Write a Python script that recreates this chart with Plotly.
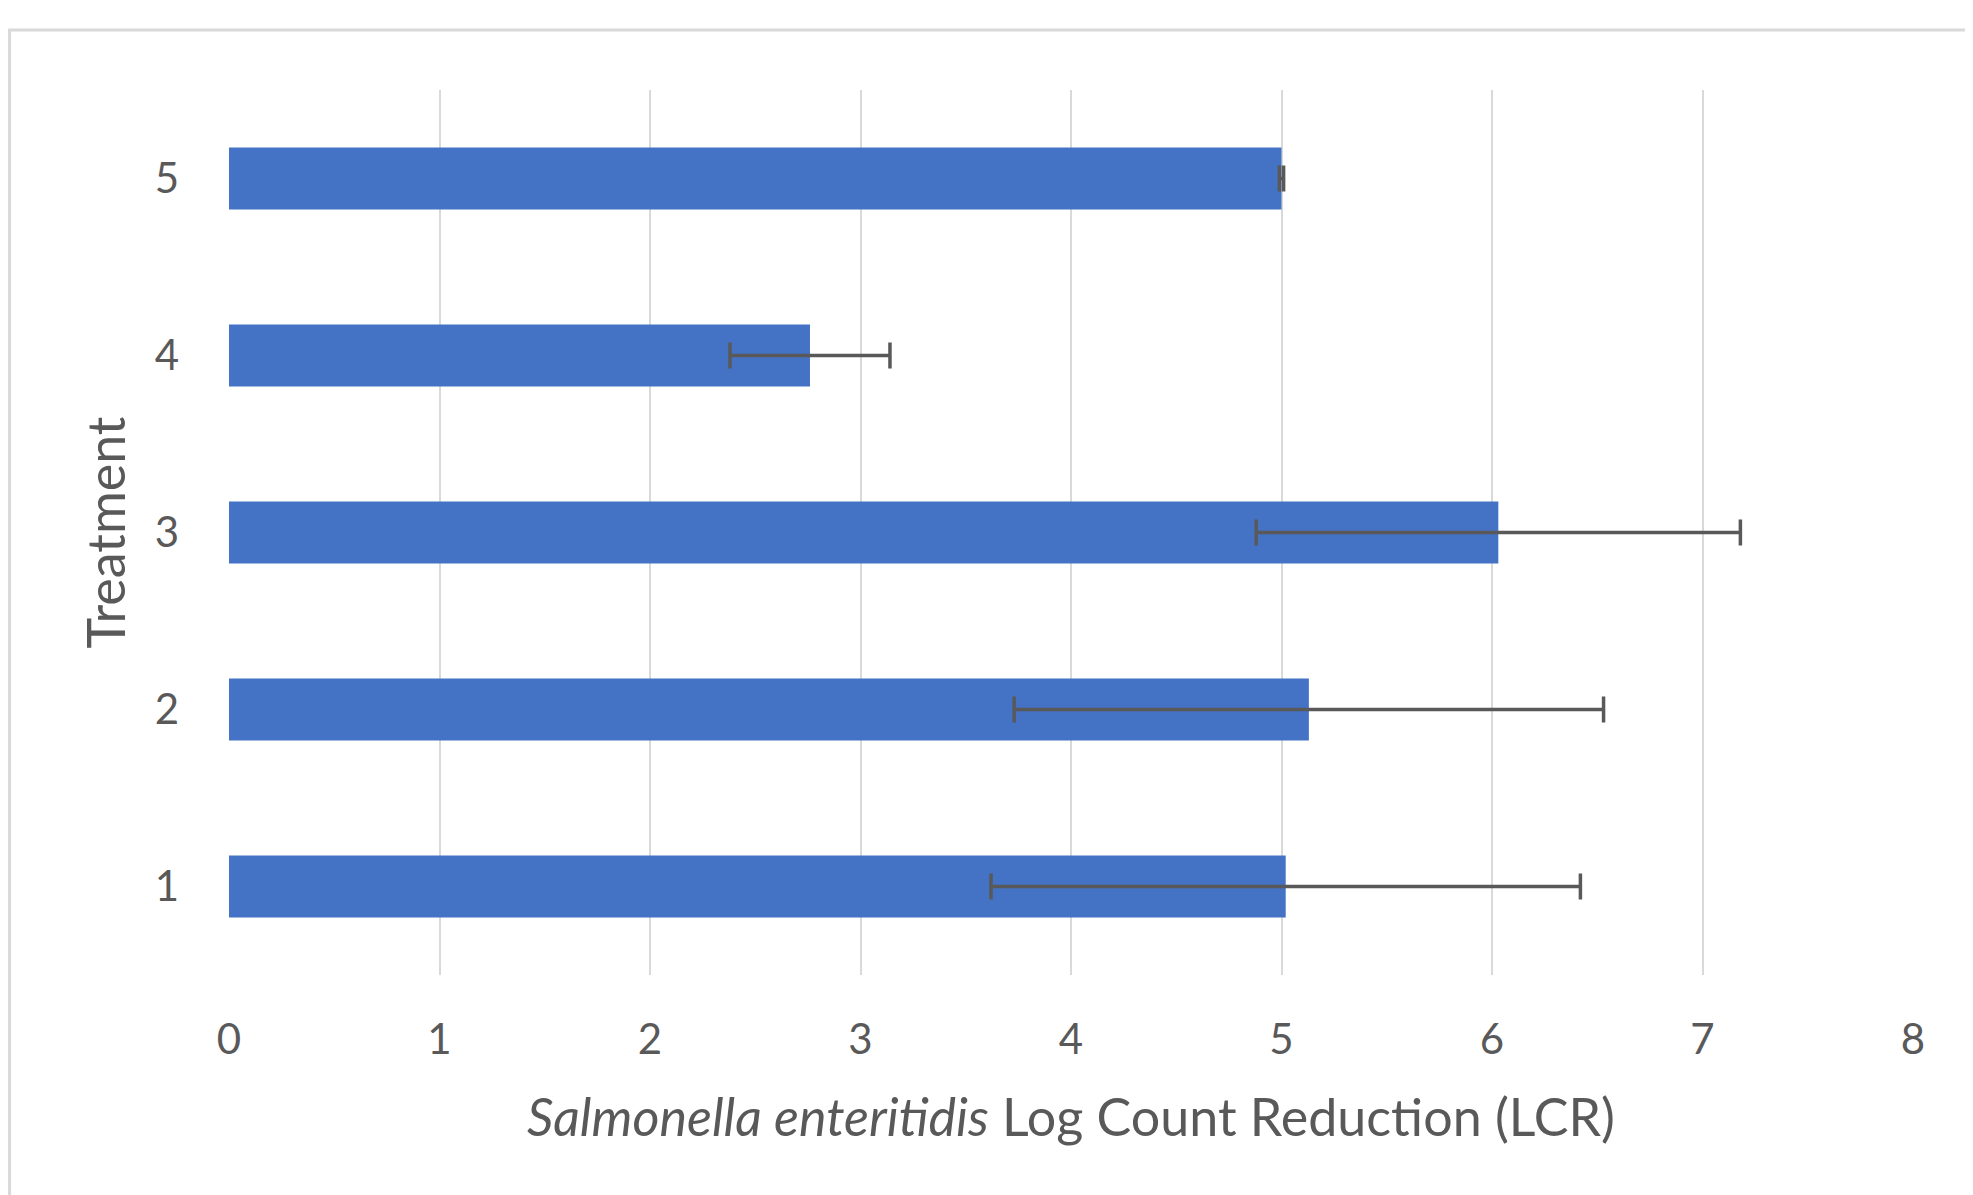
import plotly.graph_objects as go

treatments = ["1", "2", "3", "4", "5"]
lcr_mean = [5.02, 5.13, 6.03, 2.76, 5.00]
lcr_err = [1.40, 1.40, 1.15, 0.38, 0.01]
x_ticks = [0, 1, 2, 3, 4, 5, 6, 7, 8]

FONT = "Lato"
GREY = "#595959"

fig = go.Figure()
fig.add_trace(go.Bar(
    y=treatments,
    x=lcr_mean,
    orientation="h",
    marker=dict(color="#4472C4", line=dict(width=0)),
    error_x=dict(type="data", array=lcr_err, visible=True,
                 color=GREY, thickness=3.5, width=13),
    showlegend=False,
))

fig.update_layout(
    width=1973, height=1195,
    margin=dict(l=221, r=68, t=82, b=228),
    paper_bgcolor="white", plot_bgcolor="white",
    bargap=0.65,
    font=dict(family=FONT, color=GREY),
    xaxis=dict(
        range=[0, 8], tickvals=x_ticks,
        showgrid=True, gridcolor="#d9d9d9", gridwidth=2,
        zeroline=False, showline=False, ticks="",
        tickfont=dict(family=FONT, size=42, color=GREY),
        ticklabelstandoff=36,
        title=dict(text="<i>Salmonella enteritidis</i> Log Count Reduction (LCR)",
                   font=dict(family=FONT, size=52, color=GREY), standoff=37),
    ),
    yaxis=dict(
        type="category", categoryorder="array", categoryarray=treatments,
        showgrid=False, zeroline=False, showline=False, ticks="",
        tickfont=dict(family=FONT, size=42, color=GREY),
        ticklabelstandoff=49,
        title=dict(text="Treatment", font=dict(family=FONT, size=52, color=GREY),
                   standoff=12),
    ),
    shapes=[dict(type="rect", xref="paper", yref="paper",
                 x0=-0.1303, x1=1.05, y0=-0.3, y1=1.0678,
                 line=dict(color="#d9d9d9", width=3), fillcolor="rgba(0,0,0,0)",
                 layer="below")],
)

fig.write_html("out.html")
